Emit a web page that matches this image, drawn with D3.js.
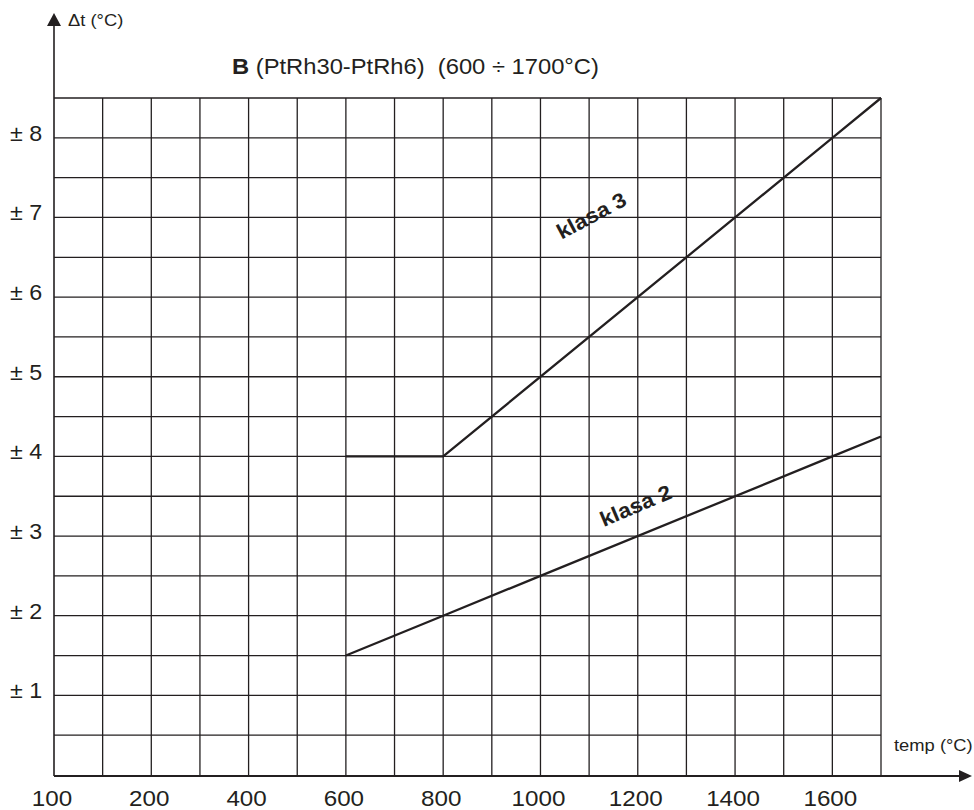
<!DOCTYPE html>
<html>
<head>
<meta charset="utf-8">
<script src="https://cdn.jsdelivr.net/npm/d3@7"></script>
<style>
  html, body { margin: 0; padding: 0; background: #fff; }
  svg text { font-family: "Liberation Sans", Arial, sans-serif; fill: #231f20; white-space: pre; }
</style>
</head>
<body>
<svg id="chart" width="974" height="810"></svg>
<script>
// ---- data ----
const xTickValues = [0, 200, 400, 600, 800, 1000, 1200, 1400, 1600];
const xTickLabels = ["100", "200", "400", "600", "800", "1000", "1200", "1400", "1600"];
const yTickValues = [1, 2, 3, 4, 5, 6, 7, 8];
const yTickLabels = ["± 1", "± 2", "± 3", "± 4", "± 5", "± 6", "± 7", "± 8"];
const klasa3Temp = [600, 800, 1600, 1700];
const klasa3Dev  = [4, 4, 8, 8.5];
const klasa2Temp = [600, 800, 1000, 1600, 1700];
const klasa2Dev  = [1.5, 2, 2.5, 4, 4.25];
const seriesNames = ["klasa 3", "klasa 2"];
const titleBold = "B";
const titleRest = " (PtRh30-PtRh6)  (600 ÷ 1700°C)";
const yAxisTitle = "Δt (°C)";
const xAxisTitle = "temp (°C)";

// ---- layout ----
const svg = d3.select("#chart");
const X0 = 54, X1 = 881, Y0 = 775, Y1 = 98;
const x = d3.scaleLinear().domain([0, 1700]).range([X0, X1]);
const y = d3.scaleLinear().domain([0, 8.5]).range([Y0, Y1]);
const ink = "#231f20";
const SX = 1.08; // horizontal text stretch seen in the reference

// grid
const g = svg.append("g");
g.selectAll("line.v").data(d3.range(100, 1701, 100)).join("line")
  .attr("x1", d => x(d)).attr("x2", d => x(d))
  .attr("y1", y(0)).attr("y2", y(8.5))
  .attr("stroke", ink).attr("stroke-width", 1.3);
g.selectAll("line.h").data(d3.range(0.5, 8.51, 0.5)).join("line")
  .attr("x1", x(0)).attr("x2", x(1700))
  .attr("y1", d => y(d)).attr("y2", d => y(d))
  .attr("stroke", ink).attr("stroke-width", 1.3);

// axes with arrows
svg.append("line").attr("x1", X0).attr("x2", X0).attr("y1", Y0 + 1).attr("y2", 24)
  .attr("stroke", ink).attr("stroke-width", 1.6);
svg.append("path").attr("d", `M${X0},13 L${X0 - 7},26 L${X0 + 7},26 Z`).attr("fill", ink);
svg.append("line").attr("x1", X0).attr("x2", 961).attr("y1", Y0 + 1).attr("y2", Y0 + 1)
  .attr("stroke", ink).attr("stroke-width", 1.8);
svg.append("path").attr("d", `M972,${Y0 + 1} L959,${Y0 - 5} L959,${Y0 + 7} Z`).attr("fill", ink);

// x tick labels
svg.selectAll("text.xt").data(xTickValues).join("text")
  .attr("text-anchor", "middle")
  .attr("transform", d => `translate(${x(d) - 2},806) scale(1.1,1)`)
  .attr("font-size", 22)
  .text((d, i) => xTickLabels[i]);

// y tick labels
svg.selectAll("text.yt").data(yTickValues).join("text")
  .attr("transform", d => `translate(10,${y(d) + 3}) scale(1.06,1)`)
  .attr("font-size", 22)
  .text((d, i) => yTickLabels[i]);

// axis titles
svg.append("text").attr("transform", `translate(68,26) scale(${SX},1)`)
  .attr("font-size", 17).text(yAxisTitle);
svg.append("text").attr("transform", `translate(894,751) scale(${SX},1)`)
  .attr("font-size", 17).text(xAxisTitle);

// title
const t = svg.append("text").attr("transform", `translate(232,74) scale(${SX},1)`)
  .attr("font-size", 22);
t.append("tspan").attr("font-weight", "bold").text(titleBold);
t.append("tspan").text(titleRest);

// series lines
const line = d3.line().x(d => x(d[0])).y(d => y(d[1]));
const s3 = klasa3Temp.map((v, i) => [v, klasa3Dev[i]]);
const s2 = klasa2Temp.map((v, i) => [v, klasa2Dev[i]]);
svg.append("path").attr("d", line(s3)).attr("fill", "none")
  .attr("stroke", ink).attr("stroke-width", 2.3);
svg.append("path").attr("d", line(s2)).attr("fill", "none")
  .attr("stroke", ink).attr("stroke-width", 2.3);

// series labels
const lab = [
  { name: seriesNames[0], t: 1105, v: 7.02, rot: -28 },
  { name: seriesNames[1], t: 1196, v: 3.38, rot: -23 }
];
svg.selectAll("text.lab").data(lab).join("text")
  .attr("text-anchor", "middle")
  .attr("transform", d => `translate(${x(d.t)},${y(d.v)}) rotate(${d.rot}) scale(${SX},1) translate(0,7)`)
  .attr("font-size", 21).attr("font-weight", "bold")
  .text(d => d.name);
</script>
</body>
</html>
